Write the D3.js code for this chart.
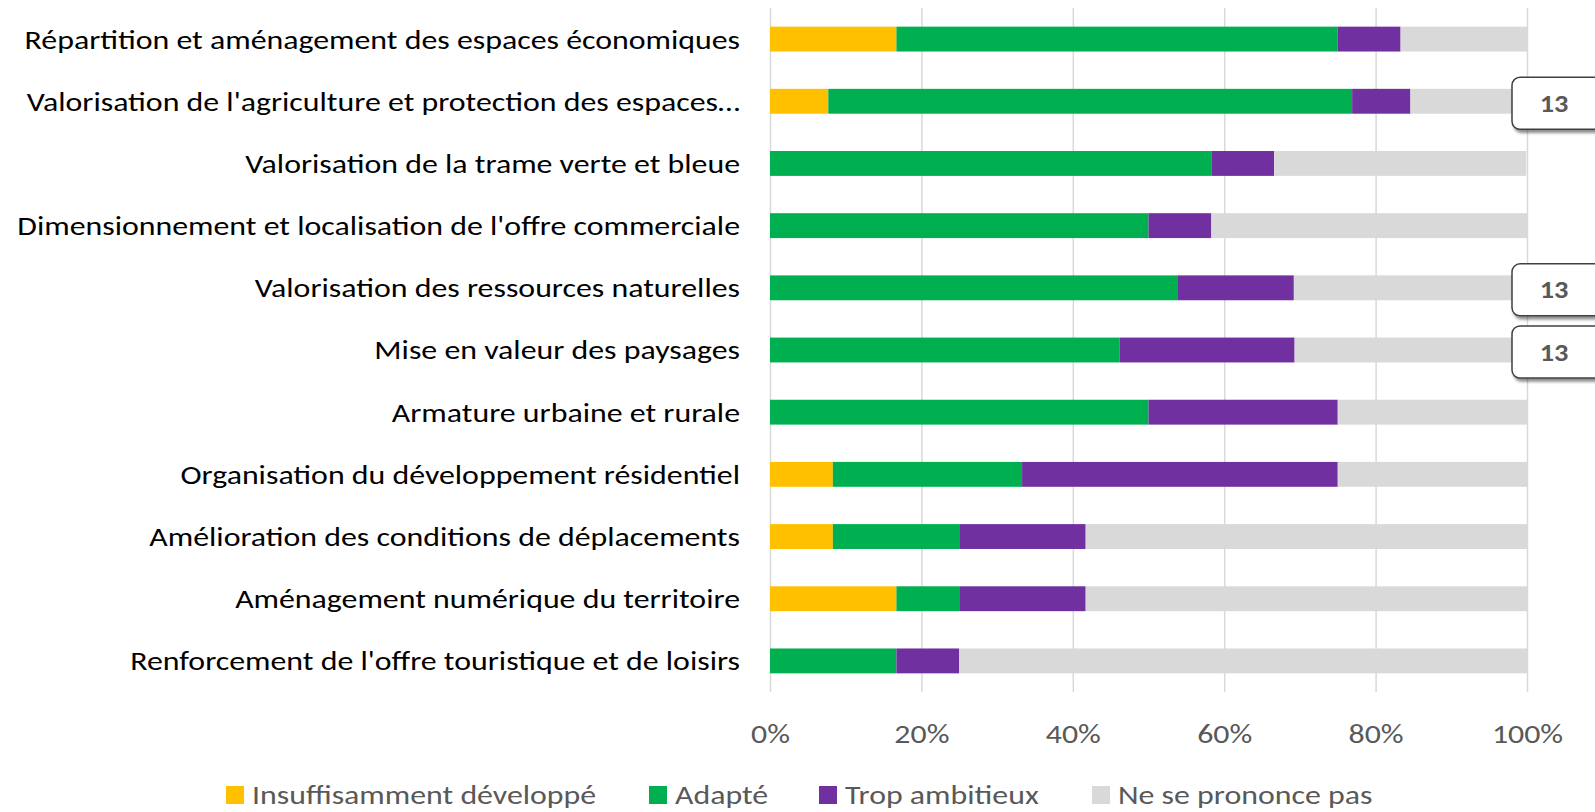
<!DOCTYPE html>
<html>
<head>
<meta charset="utf-8">
<script src="https://cdn.jsdelivr.net/npm/d3@7"></script>
<style>
  body { margin: 0; background: #fff; }
  svg { display: block; font-family: Carlito, Lato, "Open Sans", sans-serif; }
</style>
</head>
<body>
<svg id="canvas"></svg>
<script>
let categories = [
  "Répartition et aménagement des espaces économiques",
  "Valorisation de l'agriculture et protection des espaces…",
  "Valorisation de la trame verte et bleue",
  "Dimensionnement et localisation de l'offre commerciale",
  "Valorisation des ressources naturelles",
  "Mise en valeur des paysages",
  "Armature urbaine et rurale",
  "Organisation du développement résidentiel",
  "Amélioration des conditions de déplacements",
  "Aménagement numérique du territoire",
  "Renforcement de l'offre touristique et de loisirs"
];
let seriesNames = ["Insuffisamment développé", "Adapté", "Trop ambitieux", "Ne se prononce pas"];
let colors = ["#FFC000", "#00B050", "#7030A0", "#D9D9D9"];

// percentages per row
let insuffisant = [16.7, 7.7, 0, 0, 0, 0, 0, 8.3, 8.3, 16.7, 0];
let adapte      = [58.3, 69.2, 58.3, 50, 53.8, 46.2, 50, 25, 16.7, 8.3, 16.7];
let ambitieux   = [8.3, 7.7, 8.3, 8.3, 15.4, 23.1, 25, 41.7, 16.7, 16.7, 8.3];
let nsp         = [16.7, 15.4, 33.3, 41.7, 30.8, 30.8, 25, 25, 58.3, 58.3, 75];

let tickLabels = ["0%", "20%", "40%", "60%", "80%", "100%"];

// callouts "13" on some rows
let calloutRows = [1, 4, 5];
let calloutText = ["13", "13", "13"];

let width = 1595, height = 812;
let stretch = "scale(1.18,1)"; // the original font is wider than the one we have

let rows = categories.map((c, i) => ({
  cat: c,
  vals: [insuffisant[i], adapte[i], ambitieux[i], nsp[i]]
}));

let svg = d3.select("#canvas").attr("width", width).attr("height", height);

let x = d3.scaleLinear().domain([0, 100]).range([770, 1527]);
let y = d3.scaleBand().domain(categories).range([8, 692]).paddingInner(0.6).paddingOuter(0.3);

// gridlines
svg.append("g")
  .selectAll("line")
  .data(d3.range(0, 101, 20))
  .enter()
  .append("line")
  .attr("x1", d => x(d) + 0.5)
  .attr("x2", d => x(d) + 0.5)
  .attr("y1", 8)
  .attr("y2", 692)
  .attr("stroke", "#D9D9D9")
  .attr("stroke-width", 1.5);

// stacked bars
let stack = d3.stack().keys([0, 1, 2, 3]).value((d, k) => d.vals[k]);
let layers = stack(rows);

svg.append("g")
  .selectAll("g")
  .data(layers)
  .enter()
  .append("g")
  .attr("fill", (d, i) => colors[i])
  .selectAll("rect")
  .data(d => d)
  .enter()
  .append("rect")
  .attr("x", d => x(d[0]))
  .attr("width", d => x(d[1]) - x(d[0]))
  .attr("y", d => y(d.data.cat))
  .attr("height", y.bandwidth());

// category labels
svg.append("g")
  .selectAll("text")
  .data(categories)
  .enter()
  .append("text")
  .attr("transform", d => "translate(740," + (y(d) + y.bandwidth() / 2) + ") " + stretch)
  .attr("dy", "0.35em")
  .attr("text-anchor", "end")
  .attr("font-size", 27)
  .attr("fill", "#000")
  .text(d => d);

// x axis labels
let xAxis = d3.axisBottom(x)
  .tickValues(d3.range(0, 101, 20))
  .tickFormat((d, i) => tickLabels[i])
  .tickSize(0)
  .tickPadding(0);

let ax = svg.append("g")
  .attr("transform", "translate(0,734)")
  .call(xAxis);
ax.select(".domain").remove();
ax.selectAll("text")
  .attr("font-family", "Carlito, Lato, sans-serif")
  .attr("font-size", 27)
  .attr("fill", "#595959")
  .attr("y", 0)
  .attr("dy", "0.35em")
  .attr("transform", stretch);

// callouts
let defs = svg.append("defs");
let f = defs.append("filter").attr("id", "shadow").attr("x", "-20%").attr("y", "-20%").attr("width", "150%").attr("height", "150%");
f.append("feDropShadow").attr("dx", 2).attr("dy", 3).attr("stdDeviation", 1.5).attr("flood-color", "#000").attr("flood-opacity", 0.45);

let call = svg.append("g")
  .selectAll("g")
  .data(calloutRows)
  .enter()
  .append("g")
  .attr("transform", d => "translate(" + (x(100) - 15) + "," + (y(categories[d]) + y.bandwidth() / 2 - 24) + ")");

call.append("rect")
  .attr("width", 100)
  .attr("height", 52)
  .attr("rx", 8)
  .attr("fill", "#fff")
  .attr("stroke", "#404040")
  .attr("stroke-width", 1.5)
  .attr("filter", "url(#shadow)");

call.append("text")
  .attr("transform", "translate(42,26) " + stretch)
  .attr("dy", "0.36em")
  .attr("text-anchor", "middle")
  .attr("font-size", 24)
  .attr("font-weight", "bold")
  .attr("fill", "#595959")
  .text((d, i) => calloutText[i]);

// legend
let legendX = [226, 649, 819, 1092];
let lg = svg.append("g")
  .selectAll("g")
  .data(seriesNames)
  .enter()
  .append("g")
  .attr("transform", (d, i) => "translate(" + legendX[i] + ",795)");

lg.append("rect")
  .attr("y", -9)
  .attr("width", 18)
  .attr("height", 18)
  .attr("fill", (d, i) => colors[i]);

lg.append("text")
  .attr("transform", "translate(26,0) " + stretch)
  .attr("dy", "0.35em")
  .attr("font-size", 27)
  .attr("fill", "#595959")
  .text(d => d);
</script>
</body>
</html>
